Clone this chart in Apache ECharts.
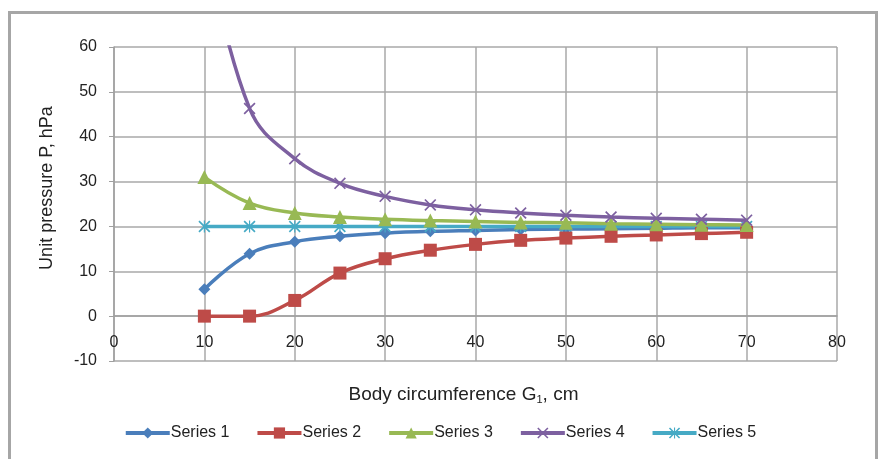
<!DOCTYPE html>
<html>
<head>
<meta charset="utf-8">
<script src="https://cdn.jsdelivr.net/npm/echarts@6/dist/echarts.min.js"></script>
<style>
  html, body { margin: 0; padding: 0; background: #fff; }
  #frame {
    position: absolute; left: 8px; top: 11px; width: 864px; height: 460px;
    border: 3px solid #a6a6a6; border-bottom: none;
  }
  #main { position: absolute; left: 0; top: 0; width: 880px; height: 459px; }
</style>
</head>
<body>
<div id="frame"></div>
<div id="main"></div>
<script>
// body circumference, cm
const girth = [10, 15, 20, 25, 30, 35, 40, 45, 50, 55, 60, 65, 70]
// unit pressure, hPa
const series1 = [6.0, 13.9, 16.6, 17.8, 18.5, 18.9, 19.1, 19.3, 19.4, 19.5, 19.6, 19.7, 19.7]
const series2 = [0, 0, 3.5, 9.6, 12.8, 14.7, 16.0, 16.9, 17.4, 17.8, 18.1, 18.4, 18.7]
const series3 = [31.0, 25.2, 23.0, 22.1, 21.6, 21.3, 21.1, 20.9, 20.8, 20.6, 20.5, 20.4, 20.3]
const series4 = [85, 46.3, 35.1, 29.6, 26.7, 24.8, 23.7, 23.0, 22.5, 22.1, 21.8, 21.6, 21.4]
const series5 = [20, 20, 20, 20, 20, 20, 20, 20, 20, 20, 20, 20, 20]
const names = ['Series 1', 'Series 2', 'Series 3', 'Series 4', 'Series 5']

const colors = ['#4a7ebb', '#be4b48', '#98b954', '#7d60a0', '#46aac5']
// 叉形和米字形标记
const crossPath = 'path://M0,1L1,0L5,4L9,0L10,1L6,5L10,9L9,10L5,6L1,10L0,9L4,5Z'
const starPath = crossPath + 'M4.5,0L5.5,0L5.5,10L4.5,10Z'
const symbols = ['diamond', 'rect', 'triangle', crossPath, starPath]
const sizes = [12, 13, 14, 12, 12]

const pairs = arr => girth.map((g, i) => [g, arr[i]])
const values = [series1, series2, series3, series4, series5]

// grid 高度 314px 对应 70 个单位，x 轴放在 y=0 处
const zeroOffset = -314 * 10 / 70

const chart = echarts.init(document.getElementById('main'))
chart.setOption({
  animation: false,
  color: colors,
  textStyle: { fontFamily: 'Liberation Sans', color: '#222' },
  grid: { left: 114, right: 43, top: 47, bottom: 98 },
  legend: {
    bottom: 13,
    left: 'center',
    itemWidth: 44,
    itemHeight: 14,
    itemGap: 26,
    lineStyle: { width: 4 },
    textStyle: { fontFamily: 'Liberation Sans', fontSize: 16, color: '#222', padding: [0, 0, 0, -4] },
    data: names
  },
  xAxis: {
    type: 'value',
    min: 0,
    max: 80,
    interval: 10,
    position: 'bottom',
    offset: zeroOffset,
    name: '{t|Body circumference G}{s|1}{t|, cm}',
    nameLocation: 'middle',
    nameGap: 68,
    nameTextStyle: {
      padding: [0, 24, 0, 0],
      rich: {
        t: { fontFamily: 'Liberation Sans', fontSize: 19, color: '#222' },
        s: { fontFamily: 'Liberation Sans', fontSize: 11, color: '#222', padding: [10, 0, 0, 0] }
      }
    },
    axisLine: { onZero: false, lineStyle: { color: '#a0a0a0', width: 1.5 } },
    axisTick: { show: false },
    axisLabel: { fontSize: 16, color: '#222', margin: 18 },
    splitLine: { show: true, lineStyle: { color: '#a8a8a8', width: 1.5 } }
  },
  yAxis: {
    type: 'value',
    min: -10,
    max: 60,
    interval: 10,
    name: 'Unit pressure P, hPa',
    nameLocation: 'middle',
    nameGap: 58,
    nameTextStyle: { fontSize: 18, color: '#222', padding: [0, 0, 0, 32] },
    axisLine: { show: true, onZero: false, lineStyle: { color: '#a0a0a0', width: 1.5 } },
    axisTick: { show: true, length: 5, lineStyle: { color: '#a0a0a0' } },
    axisLabel: { fontSize: 16, color: '#222', margin: 17 },
    splitLine: { show: true, lineStyle: { color: '#a8a8a8', width: 1.5 } }
  },
  series: names.map((n, i) => ({
    name: n,
    type: 'line',
    smooth: 0.4,
    data: pairs(values[i]),
    symbol: symbols[i],
    symbolSize: sizes[i],
    showAllSymbol: true,
    clip: true,
    itemStyle: { color: colors[i] },
    lineStyle: { color: colors[i], width: 3.5 },
    z: 2 + (i === 4 ? 0 : i)
  }))
})
</script>
</body>
</html>
